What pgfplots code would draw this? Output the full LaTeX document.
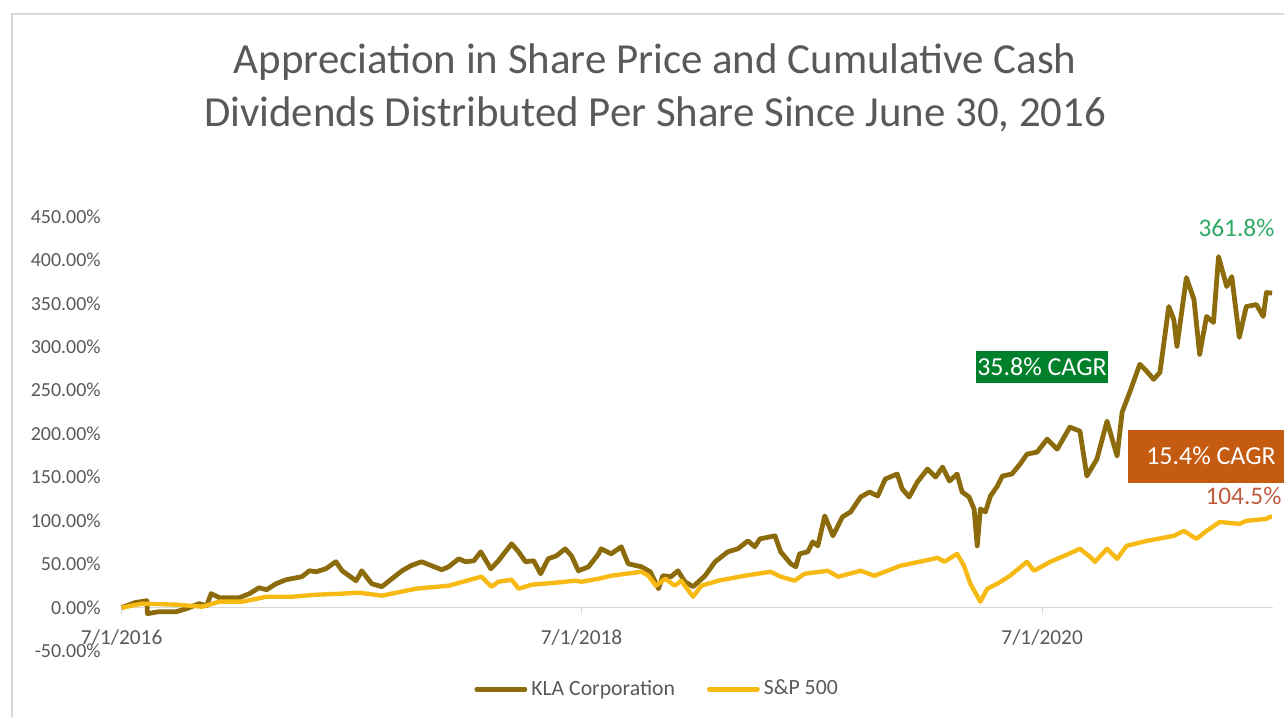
\documentclass[border=0pt]{standalone}
\usepackage{fontspec}
\setmainfont{Carlito}
\usepackage{pgfplots}
\pgfplotsset{compat=1.18}
\definecolor{kla}{HTML}{8B6B0B}
\definecolor{spx}{HTML}{F7BA14}
\definecolor{txtgray}{HTML}{595959}
\definecolor{framegray}{HTML}{D9D9D9}
\definecolor{cagrgreen}{HTML}{00802B}
\definecolor{cagrorange}{HTML}{C55A11}
\definecolor{lblgreen}{HTML}{2EAA64}
\definecolor{lblred}{HTML}{C05A3E}
\begin{document}
\begin{tikzpicture}
% page size 1288 x 719 px, 0.5pt per px
\path (0,0) rectangle (644pt,359.5pt);
\begin{scope}[x=0.5pt,y=-0.5pt,shift={(0pt,359.5pt)}]
\draw[framegray, line width=0.75pt] (12,719) -- (12,14) -- (1288,14);
\node[txtgray, font=\fontsize{21.5pt}{24pt}\selectfont] at (657,62) {Appreciation in Share Price and Cumulative Cash};
\node[txtgray, font=\fontsize{21.5pt}{24pt}\selectfont] at (657,115) {Dividends Distributed Per Share Since June 30, 2016};
\end{scope}
\begin{axis}[
  at={(61pt,33pt)}, anchor=south west,
  scale only axis, width=577.5pt, height=218pt,
  xmin=0, xmax=1828, ymin=-50, ymax=450,
  axis x line=middle, axis y line=left,
  hide obscured x ticks=false,
  x axis line style={framegray, line width=0.6pt, -},
  y axis line style={draw=none},
  xtick={0,730,1461}, xticklabels={7/1/2016,7/1/2018,7/1/2020},
  xtick style={framegray, line width=0.6pt},
  tick align=outside, major tick length=3pt,
  ytick={-50,0,50,100,150,200,250,300,350,400,450},
  yticklabels={-50.00\%,0.00\%,50.00\%,100.00\%,150.00\%,200.00\%,250.00\%,300.00\%,350.00\%,400.00\%,450.00\%},
  ytick style={draw=none},
  ticklabel style={font=\fontsize{10.7pt}{12pt}\selectfont, text=txtgray},
  yticklabel style={anchor=east, xshift=-4pt, font=\fontsize{10pt}{12pt}\selectfont},
  xticklabel style={yshift=-4.5pt},
  legend columns=2,
  legend style={at={(0.4658,-0.0872)}, anchor=center, draw=none, fill=none,
    font=\fontsize{10.9pt}{12pt}\selectfont, text=txtgray,
    /tikz/every even column/.append style={column sep=14pt}},
  legend image code/.code={\draw[#1, line width=2.5pt, line cap=round] (0pt,0pt) -- (24pt,0pt);},
  clip=false,
]
\addplot[kla, line width=2.4pt, line join=round] coordinates {
(0,0) (21,5.7) (40,8.0) (41,-6.9) (60,-4.6) (87,-4.6) (103,-1.1) (123,4.6) (135,2.3)
(142,16.1) (155,11.5) (187,11.5) (203,16.1) (218,22.9) (230,20.6) (245,27.5) (261,32.1)
(286,35.6) (298,42.4) (309,41.3) (324,44.7) (340,52.8) (350,42.4) (372,31.0) (377,36.7)
(381,42.4) (397,27.5) (413,24.1) (429,33.3) (445,42.4) (459,48.2) (476,52.8) (492,48.2)
(508,43.6) (519,47.0) (535,56.2) (546,52.8) (559,53.9) (570,64.2) (586,44.7) (598,53.9)
(609,64.2) (619,73.4) (630,64.2) (641,52.8) (654,53.9) (665,39.0) (677,56.2) (690,59.6)
(704,67.7) (714,59.6) (725,42.4) (741,47.0) (757,61.9) (761,67.7) (777,61.9) (793,70.0)
(804,50.5) (825,47.0) (839,41.3) (852,21.8) (859,36.7) (872,35.6) (883,42.4) (894,29.8)
(907,24.1) (926,36.7) (942,52.8) (962,64.2) (978,67.7) (994,76.8) (1005,70.0) (1013,79.1)
(1037,82.6) (1046,64.2) (1062,50.5) (1070,47.0) (1076,61.9) (1089,64.2) (1097,75.7)
(1105,71.1) (1116,105.5) (1129,82.6) (1144,104.4) (1157,110.1) (1173,127.3) (1187,133.0)
(1200,128.4) (1212,147.9) (1231,153.7) (1239,136.5) (1250,127.3) (1263,144.5) (1279,159.4)
(1292,150.2) (1303,161.7) (1314,145.6) (1326,153.7) (1334,133.0) (1345,127.3) (1353,113.5)
(1358,71.1) (1363,113.5) (1371,110.1) (1379,128.4) (1390,139.9) (1398,151.4) (1413,153.7)
(1426,165.1) (1437,176.6) (1453,178.9) (1469,193.8) (1485,182.3) (1505,207.6) (1521,203.0)
(1532,151.4) (1548,170.9) (1564,214.5) (1580,174.3) (1588,224.8) (1600,247.7) (1616,279.8)
(1627,271.8) (1638,262.6) (1648,270.6) (1662,346.3) (1670,331.4) (1675,300.5) (1690,379.6)
(1702,354.4) (1711,291.3) (1722,334.9) (1733,328.0) (1741,403.7) (1754,369.3) (1762,380.7)
(1774,310.8) (1785,346.3) (1801,348.6) (1812,334.9) (1817,362.4) (1826,361.8)
};
\addlegendentry{KLA Corporation}
\addplot[spx, line width=2.2pt, line join=round] coordinates {
(0,0) (33,4.6) (87,3.4) (128,1.1) (155,6.9) (192,6.9) (230,12.6) (271,12.6) (309,14.9)
(350,16.1) (377,17.2) (413,13.8) (467,21.8) (519,25.2) (571,35.6) (587,24.1) (598,29.8)
(619,32.1) (630,21.8) (651,26.4) (689,28.7) (720,31.0) (730,29.8) (757,33.3) (777,36.7)
(825,41.3) (836,36.7) (848,25.2) (863,33.3) (878,25.2) (888,31.0) (907,12.6) (920,25.2)
(947,31.0) (989,36.7) (1030,41.3) (1046,35.6) (1068,31.0) (1084,39.0) (1121,42.4)
(1137,35.6) (1173,42.4) (1195,36.7) (1236,48.2) (1274,53.9) (1295,57.3) (1306,52.8)
(1326,61.9) (1337,48.2) (1347,27.5) (1363,6.9) (1374,21.8) (1390,27.5) (1410,36.7)
(1437,52.8) (1448,42.4) (1474,52.8) (1496,59.6) (1521,67.7) (1537,58.5) (1545,52.8)
(1564,67.7) (1580,56.2) (1595,71.1) (1627,76.8) (1670,82.6) (1686,88.3) (1706,79.1)
(1722,88.3) (1743,98.6) (1774,96.3) (1785,99.8) (1817,102.1) (1822,104.4) (1826,104.5)
};
\addlegendentry{S\&P 500}
\end{axis}
\begin{scope}[x=0.5pt,y=-0.5pt,shift={(0pt,359.5pt)}]
\node[lblgreen, font=\fontsize{12.7pt}{14pt}\selectfont] at (1240,229) {361.8\%};
\node[fill=cagrgreen, text=white, minimum width=66pt, minimum height=16pt, inner sep=0pt,
  font=\fontsize{13pt}{14pt}\selectfont] at (1045,368) {35.8\% CAGR};
\node[fill=cagrorange, text=white, minimum width=78.5pt, minimum height=26.5pt, inner sep=0pt,
  font=\fontsize{13pt}{14pt}\selectfont] at (1209.5,457.5) {\hspace*{5pt}15.4\% CAGR};
\node[lblred, font=\fontsize{12.7pt}{14pt}\selectfont] at (1247,497) {104.5\%};
\end{scope}
\end{tikzpicture}
\end{document}
